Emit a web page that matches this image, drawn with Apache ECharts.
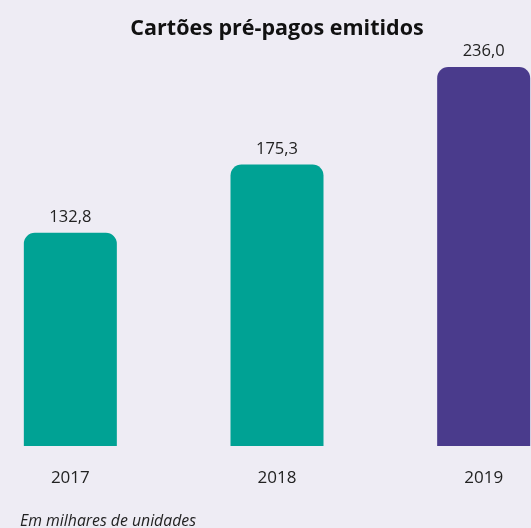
<!DOCTYPE html>
<html>
<head>
<meta charset="utf-8">
<script src="https://cdn.jsdelivr.net/npm/echarts@6/dist/echarts.min.js"></script>
<style>
  html, body { margin: 0; padding: 0; background: #eeecf4; }
  #main { width: 531px; height: 528px; }
</style>
</head>
<body>
<div id="main"></div>
<script>
// dados do gráfico
const anos = ['2017', '2018', '2019']
const valores = [132.8, 175.3, 236.0]
const cores = ['#00a294', '#00a294', '#4a3b8c']

let myChart = echarts.init(document.getElementById('main'))

myChart.setOption({
  backgroundColor: '#eeecf4',
  animation: false,
  title: {
    text: 'Cartões pré-pagos emitidos',
    left: 272,
    top: 13,
    textAlign: 'center',
    textStyle: { fontFamily: 'Open Sans', fontWeight: 'bold', fontSize: 21.5, color: '#111' }
  },
  graphic: [{
    type: 'text',
    left: 20,
    top: 513,
    style: { text: 'Em milhares de unidades', fontFamily: 'Open Sans', fontStyle: 'italic', fontSize: 15.8, fill: '#222' }
  }],
  grid: { left: -33, right: -56, top: 44.5, bottom: 82, outerBoundsMode: 'none' },
  xAxis: {
    type: 'category',
    data: anos,
    axisLine: { show: false },
    axisTick: { show: false },
    axisLabel: { margin: 24, fontFamily: 'Open Sans', fontSize: 17, color: '#222' }
  },
  yAxis: {
    type: 'value',
    min: 0,
    max: 250,
    show: false
  },
  series: [{
    type: 'bar',
    barWidth: 93,
    data: valores.map((v, i) => ({ value: v, itemStyle: { color: cores[i] } })),
    itemStyle: { borderRadius: [11, 11, 0, 0] },
    label: {
      show: true,
      position: 'top',
      distance: 7,
      fontFamily: 'Open Sans',
      fontSize: 16.5,
      color: '#222',
      formatter: p => p.value.toFixed(1).replace('.', ',')
    }
  }]
})
</script>
</body>
</html>
